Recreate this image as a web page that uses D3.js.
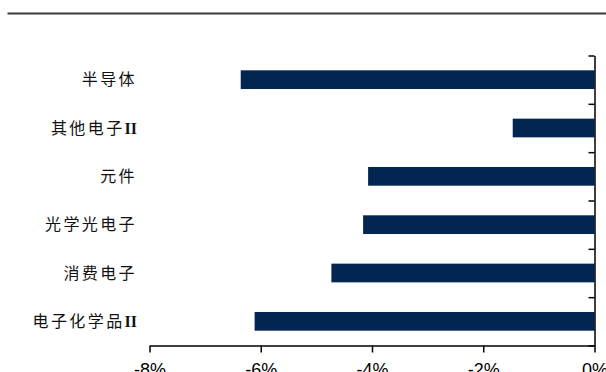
<!DOCTYPE html>
<html><head><meta charset="utf-8">
<script src="https://cdn.jsdelivr.net/npm/d3@7"></script>
<style>
body{margin:0;background:#fff;}
svg{display:block;}
</style></head>
<body>
<script>
const categories = ["半导体","其他电子II","元件","光学光电子","消费电子","电子化学品II"];
const values = [-6.36,-1.47,-4.07,-4.16,-4.73,-6.11];
const xTicks = [-8,-6,-4,-2,0];

const W=606,H=372;
const svg=d3.select("body").append("svg").attr("width",W).attr("height",H);

// top rule
svg.append("line").attr("x1",7.5).attr("x2",606).attr("y1",13.5).attr("y2",13.5)
  .attr("stroke","#3a3a3a").attr("stroke-width",2);

const x=d3.scaleLinear().domain([-8,0]).range([149.5,594.5]);
const y=d3.scaleBand().domain(categories).range([55.5,345.5]).paddingInner(0.613).paddingOuter(0.3065);
const yb=d3.scaleLinear().domain([0,categories.length]).range([55.5,345.5]);

svg.selectAll("rect.bar").data(categories).enter().append("rect")
  .attr("class","bar")
  .attr("x",(d,i)=>x(values[i]))
  .attr("width",(d,i)=>x(0)-x(values[i]))
  .attr("y",d=>y(d))
  .attr("height",y.bandwidth())
  .attr("fill","#022551");

// x axis
const xa=svg.append("g").attr("transform","translate(0,345.5)")
  .call(d3.axisBottom(x).tickValues(xTicks).tickFormat(d=>d+"%").tickSize(7).tickSizeOuter(0).tickPadding(11));
xa.select(".domain").attr("stroke","#000").attr("stroke-width",1.5);
xa.selectAll(".tick line").attr("stroke","#000").attr("stroke-width",1.5);
xa.selectAll(".tick text").attr("fill","#000").style("font-family","'Liberation Sans',Arial,sans-serif").style("font-size","18px");

// y axis on right with ticks pointing left at band boundaries
const ya=svg.append("g").attr("transform","translate(594.5,0)")
  .call(d3.axisLeft(yb).ticks(6).tickFormat("").tickSize(6).tickSizeOuter(0));
ya.select(".domain").attr("stroke","#000").attr("stroke-width",1.5);
ya.selectAll(".tick line").attr("stroke","#000").attr("stroke-width",1.5);

// category labels
const lbl=svg.selectAll("text.cat").data(categories).enter().append("text")
  .attr("class","cat")
  .attr("x",137)
  .attr("y",d=>y(d)+y.bandwidth()/2)
  .attr("dy","0.36em")
  .attr("text-anchor","end")
  .style("font-family","'Liberation Serif','Noto Sans CJK SC',serif")
  .style("font-size","16px")
  .attr("fill","#111");
lbl.each(function(d){
  const t=d3.select(this);
  const m=d.match(/^(.*?)(I+)?$/);
  t.append("tspan").style("letter-spacing","2.4px").text(m[1]);
  if(m[2]) t.append("tspan").style("font-weight","bold").text(m[2]);
});
</script>
</body></html>
